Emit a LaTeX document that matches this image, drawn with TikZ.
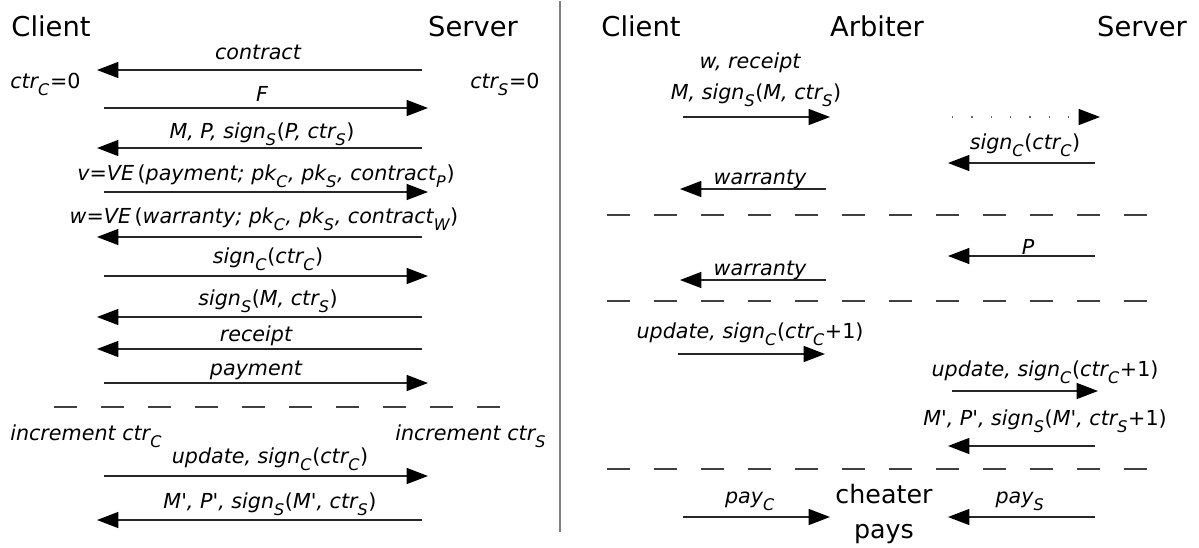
\documentclass[tikz,border=0pt]{standalone}
\usepackage{fontspec}
\setmainfont{DejaVu Sans}
\usetikzlibrary{arrows.meta}
% lowered subscript used inside message labels
\newcommand\lo[1]{\raisebox{-0.7ex}{\fontsize{12}{12}\selectfont #1}\kern0.5pt}
\newcommand\qt{\textquotesingle}
\newcommand\lp{{\upshape(}}
\newcommand\rp{{\upshape)}}
\newcommand\plusone{{\upshape +1}}
\tikzset{
  party/.style={inner sep=0pt, font=\fontsize{20.5}{24}\selectfont, anchor=base},
  lbl/.style={inner sep=0pt, font=\fontsize{15.5}{18}\selectfont\itshape, anchor=base},
  msg/.style={draw=black!85, line width=1pt, -{Triangle[length=16pt,width=12pt,black]}},
  dotmsg/.style={draw=black!60, line width=1pt, dash pattern=on 1pt off 13.5pt,
    -{Triangle[length=16pt,width=12pt,black]}},
  phase/.style={draw=black!75, line width=1pt, dash pattern=on 17.25pt off 18pt},
  divider/.style={draw=black!50, line width=1.5pt}
}
\begin{document}
\begin{tikzpicture}[x=0.75pt, y=-0.75pt]
\useasboundingbox (0,0) rectangle (1199,547);

% ---------------- left protocol: normal run ----------------
\node[party] (lc) at (51,36) {Client};
\node[party] (ls) at (473,36) {Server};

\node[lbl, anchor=base west] (ctrc) at (10,88) {ctr\lo{C}{\upshape =0}};
\node[lbl, anchor=base west] (ctrs) at (470,88) {ctr\lo{S}{\upshape =0}};

\coordinate (L1s) at (422,70);  \coordinate (L1e) at (97,70);
\coordinate (L2s) at (104,108); \coordinate (L2e) at (428,108);
\coordinate (L3s) at (422,148); \coordinate (L3e) at (97,148);
\coordinate (L4s) at (104,192); \coordinate (L4e) at (428,192);
\coordinate (L5s) at (422,237); \coordinate (L5e) at (97,237);
\coordinate (L6s) at (104,276); \coordinate (L6e) at (428,276);
\coordinate (L7s) at (422,317); \coordinate (L7e) at (97,317);
\coordinate (L8s) at (422,349); \coordinate (L8e) at (97,349);
\coordinate (L9s) at (104,383); \coordinate (L9e) at (428,383);
\coordinate (L10s) at (104,476); \coordinate (L10e) at (428,476);
\coordinate (L11s) at (422,520); \coordinate (L11e) at (97,520);

\node[lbl] (t1) at (258,59) {contract};
\node[lbl] (t2) at (262,101) {F};
\node[lbl] (t3) at (262,138) {M, P, sign\lo{S}\lp P, ctr\lo{S}\rp};
\node[lbl] (t4) at (266,180) {v=VE\,\lp payment; pk\lo{C}, pk\lo{S}, contract\lo{P}\rp};
\node[lbl] (t5) at (264,223) {w=VE\,\lp warranty; pk\lo{C}, pk\lo{S}, contract\lo{W}\rp};
\node[lbl] (t6) at (268,263) {sign\lo{C}\lp ctr\lo{C}\rp};
\node[lbl] (t7) at (268,305) {sign\lo{S}\lp M, ctr\lo{S}\rp};
\node[lbl] (t8) at (256,341) {receipt};
\node[lbl] (t9) at (256,375) {payment};
\node[lbl, anchor=base west] (incc) at (10,440) {increment ctr\lo{C}};
\node[lbl, anchor=base west] (incs) at (395,440) {increment ctr\lo{S}};
\node[lbl] (t10) at (270,463) {update, sign\lo{C}\lp ctr\lo{C}\rp};
\node[lbl] (t11) at (270,508) {M\qt, P\qt, sign\lo{S}\lp M\qt, ctr\lo{S}\rp};

\foreach \i in {1,...,11} \draw[msg] (L\i s) -- (L\i e);

\coordinate (Dl0) at (54,407); \coordinate (Dl1) at (500,407);
\draw[phase] (Dl0) -- (Dl1);

% ---------------- divider ----------------
\coordinate (sepT) at (560,1); \coordinate (sepB) at (560,532);
\draw[divider] (sepT) -- (sepB);

% ---------------- right protocol: dispute ----------------
\node[party] (rc) at (641,36) {Client};
\node[party] (ra) at (877,36) {Arbiter};
\node[party] (rs) at (1142,36) {Server};

\coordinate (R1s) at (683,117);  \coordinate (R1e) at (830,117);
\coordinate (R2s) at (952,117);  \coordinate (R2e) at (1100,117);
\coordinate (R3s) at (1095,163); \coordinate (R3e) at (948,163);
\coordinate (R4s) at (826,189);  \coordinate (R4e) at (680,189);
\coordinate (R5s) at (1095,256); \coordinate (R5e) at (948,256);
\coordinate (R6s) at (826,280);  \coordinate (R6e) at (680,280);
\coordinate (R7s) at (678,354);  \coordinate (R7e) at (825,354);
\coordinate (R8s) at (952,391);  \coordinate (R8e) at (1098,391);
\coordinate (R9s) at (1095,446); \coordinate (R9e) at (948,446);
\coordinate (R10s) at (683,517); \coordinate (R10e) at (830,517);
\coordinate (R11s) at (1095,517); \coordinate (R11e) at (948,517);

\node[lbl] (u1) at (750,68) {w, receipt};
\node[lbl] (u2) at (756,99) {M, sign\lo{S}\lp M, ctr\lo{S}\rp};
\node[lbl] (u3) at (1025,149) {sign\lo{C}\lp ctr\lo{C}\rp};
\node[lbl] (u4) at (760,184) {warranty};
\node[lbl] (u5) at (1028,254) {P};
\node[lbl] (u6) at (760,275) {warranty};
\node[lbl] (u7) at (750,338) {update, sign\lo{C}\lp ctr\lo{C}\plusone\rp};
\node[lbl] (u8) at (1045,376) {update, sign\lo{C}\lp ctr\lo{C}\plusone\rp};
\node[lbl] (u9) at (1045,425) {M\qt, P\qt, sign\lo{S}\lp M\qt, ctr\lo{S}\plusone\rp};
\node[lbl] (u10) at (750,503) {pay\lo{C}};
\node[lbl] (u11) at (1020,503) {pay\lo{S}};
\node[inner sep=0pt, align=center, font=\fontsize{19}{26}\selectfont] (cheat) at (884,514) {cheater\\pays};

\foreach \i in {1,3,4,5,6,7,8,9,10,11} \draw[msg] (R\i s) -- (R\i e);
\draw[dotmsg] (R2s) -- (R2e);

\coordinate (Da0) at (607,215); \coordinate (Da1) at (1152,215);
\coordinate (Db0) at (607,301); \coordinate (Db1) at (1152,301);
\coordinate (Dc0) at (607,469); \coordinate (Dc1) at (1152,469);
\draw[phase] (Da0) -- (Da1);
\draw[phase] (Db0) -- (Db1);
\draw[phase] (Dc0) -- (Dc1);
\end{tikzpicture}
\end{document}
